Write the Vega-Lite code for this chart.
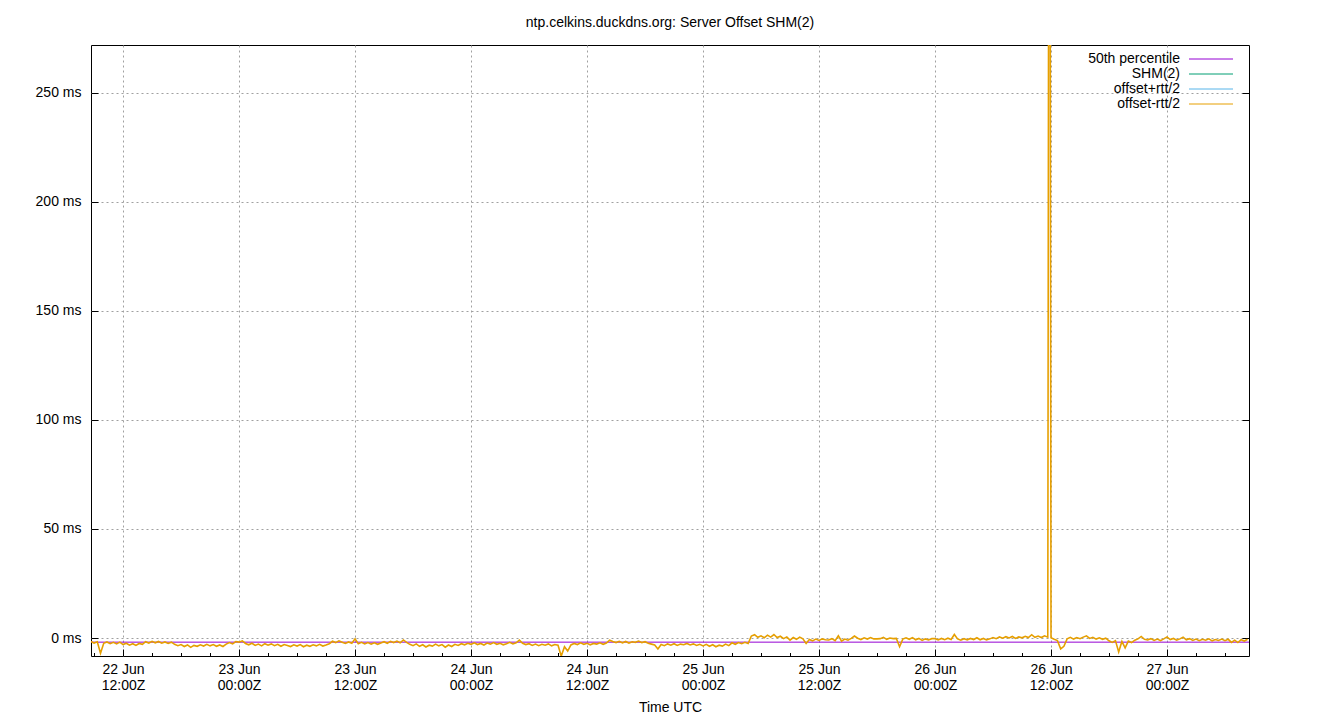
{
  "$schema": "https://vega.github.io/schema/vega-lite/v6.json",
  "autosize": "none",
  "width": 1158,
  "height": 611,
  "padding": {"left": 91, "top": 45, "right": 91, "bottom": 64},
  "background": "white",
  "title": {"text": "ntp.celkins.duckdns.org: Server Offset SHM(2)", "offset": 15},
  "config": {
    "font": "Liberation Sans",
    "view": {"stroke": "black", "strokeWidth": 1},
    "title": {"font": "Liberation Sans", "fontSize": 14, "fontWeight": "normal", "color": "black"},
    "axis": {
      "labelFont": "Liberation Sans", "labelFontSize": 14, "labelColor": "black",
      "titleFont": "Liberation Sans", "titleFontSize": 14, "titleFontWeight": "normal", "titleColor": "black",
      "domain": false, "tickColor": "black", "gridColor": "#a0a0a0", "gridDash": [2, 3], "gridWidth": 1
    },
    "legend": {
      "orient": "none", "legendX": 1113, "legendY": 7, "padding": 0,
      "symbolType": "M-4,0H4", "symbolSize": 121, "symbolStrokeWidth": 1,
      "labelAlign": "right", "labelOffset": -38, "labelFont": "Liberation Sans", "labelFontSize": 14, "labelColor": "black",
      "rowPadding": 1
    }
  },
  "resolve": {"axis": {"y": "independent"}},
  "layer": [
    {
      "data": {"values": [{"series": "50th percentile", "v": -1.9}]},
      "mark": {"type": "rule", "strokeWidth": 1},
      "encoding": {
        "y": {
          "field": "v", "type": "quantitative",
          "scale": {"domain": [-8.25, 271.8], "nice": false, "zero": false},
          "axis": {"title": null, "orient": "left", "values": [0, 50, 100, 150, 200, 250], "labelExpr": "datum.value + ' ms'", "grid": true, "tickSize": -7, "labelPadding": 17}
        },
        "color": {
          "field": "series", "type": "nominal",
          "scale": {"domain": ["50th percentile", "SHM(2)", "offset+rtt/2", "offset-rtt/2"], "range": ["#9400d3", "#009e73", "#56b4e9", "#e69f00"]},
          "legend": {"title": null}
        }
      }
    },
    {
      "data": {"values": [
        {"t":"2023-06-22T08:40Z","v":-1.6},
        {"t":"2023-06-22T09:00Z","v":-2.3},{"t":"2023-06-22T09:20Z","v":-1.7},{"t":"2023-06-22T09:40Z","v":-7.0},
        {"t":"2023-06-22T10:00Z","v":-2.4},{"t":"2023-06-22T10:20Z","v":-1.8},{"t":"2023-06-22T10:40Z","v":-2.6},
        {"t":"2023-06-22T11:00Z","v":-2.0},{"t":"2023-06-22T11:20Z","v":-2.7},{"t":"2023-06-22T11:40Z","v":-1.9},
        {"t":"2023-06-22T12:00Z","v":-3.0},{"t":"2023-06-22T12:20Z","v":-2.4},{"t":"2023-06-22T12:40Z","v":-3.3},
        {"t":"2023-06-22T13:00Z","v":-2.6},{"t":"2023-06-22T13:20Z","v":-3.4},{"t":"2023-06-22T13:40Z","v":-2.5},
        {"t":"2023-06-22T14:00Z","v":-2.9},{"t":"2023-06-22T14:20Z","v":-1.7},{"t":"2023-06-22T14:40Z","v":-2.3},
        {"t":"2023-06-22T15:00Z","v":-1.5},{"t":"2023-06-22T15:20Z","v":-2.2},{"t":"2023-06-22T15:40Z","v":-1.6},
        {"t":"2023-06-22T16:00Z","v":-2.4},{"t":"2023-06-22T16:20Z","v":-1.8},{"t":"2023-06-22T16:40Z","v":-2.5},
        {"t":"2023-06-22T17:00Z","v":-1.9},{"t":"2023-06-22T17:20Z","v":-2.9},{"t":"2023-06-22T17:40Z","v":-3.5},
        {"t":"2023-06-22T18:00Z","v":-3.0},{"t":"2023-06-22T18:20Z","v":-3.9},{"t":"2023-06-22T18:40Z","v":-3.2},
        {"t":"2023-06-22T19:00Z","v":-4.3},{"t":"2023-06-22T19:20Z","v":-3.4},{"t":"2023-06-22T19:40Z","v":-3.8},
        {"t":"2023-06-22T20:00Z","v":-3.1},{"t":"2023-06-22T20:20Z","v":-3.7},{"t":"2023-06-22T20:40Z","v":-2.9},
        {"t":"2023-06-22T21:00Z","v":-3.6},{"t":"2023-06-22T21:20Z","v":-3.0},{"t":"2023-06-22T21:40Z","v":-3.8},
        {"t":"2023-06-22T22:00Z","v":-3.2},{"t":"2023-06-22T22:20Z","v":-3.9},{"t":"2023-06-22T22:40Z","v":-2.8},
        {"t":"2023-06-22T23:00Z","v":-2.1},{"t":"2023-06-22T23:20Z","v":-2.7},{"t":"2023-06-22T23:40Z","v":-1.6},
        {"t":"2023-06-23T00:00Z","v":-1.9},{"t":"2023-06-23T00:20Z","v":-1.3},{"t":"2023-06-23T00:40Z","v":-2.5},
        {"t":"2023-06-23T01:00Z","v":-3.1},{"t":"2023-06-23T01:20Z","v":-2.4},{"t":"2023-06-23T01:40Z","v":-3.4},
        {"t":"2023-06-23T02:00Z","v":-2.8},{"t":"2023-06-23T02:20Z","v":-3.6},{"t":"2023-06-23T02:40Z","v":-2.6},
        {"t":"2023-06-23T03:00Z","v":-3.3},{"t":"2023-06-23T03:20Z","v":-2.7},{"t":"2023-06-23T03:40Z","v":-3.5},
        {"t":"2023-06-23T04:00Z","v":-2.9},{"t":"2023-06-23T04:20Z","v":-3.8},{"t":"2023-06-23T04:40Z","v":-3.0},
        {"t":"2023-06-23T05:00Z","v":-3.4},{"t":"2023-06-23T05:20Z","v":-3.9},{"t":"2023-06-23T05:40Z","v":-3.1},
        {"t":"2023-06-23T06:00Z","v":-3.7},{"t":"2023-06-23T06:20Z","v":-3.0},{"t":"2023-06-23T06:40Z","v":-4.0},
        {"t":"2023-06-23T07:00Z","v":-3.3},{"t":"2023-06-23T07:20Z","v":-3.8},{"t":"2023-06-23T07:40Z","v":-3.1},
        {"t":"2023-06-23T08:00Z","v":-3.6},{"t":"2023-06-23T08:20Z","v":-2.9},{"t":"2023-06-23T08:40Z","v":-3.7},
        {"t":"2023-06-23T09:00Z","v":-3.2},{"t":"2023-06-23T09:20Z","v":-2.6},{"t":"2023-06-23T09:40Z","v":-1.5},
        {"t":"2023-06-23T10:00Z","v":-2.1},{"t":"2023-06-23T10:20Z","v":-1.3},{"t":"2023-06-23T10:40Z","v":-1.9},
        {"t":"2023-06-23T11:00Z","v":-2.5},{"t":"2023-06-23T11:20Z","v":-1.8},{"t":"2023-06-23T11:40Z","v":-2.4},
        {"t":"2023-06-23T12:00Z","v":-0.4},{"t":"2023-06-23T12:20Z","v":-2.6},{"t":"2023-06-23T12:40Z","v":-2.0},
        {"t":"2023-06-23T13:00Z","v":-2.7},{"t":"2023-06-23T13:20Z","v":-2.1},{"t":"2023-06-23T13:40Z","v":-2.8},
        {"t":"2023-06-23T14:00Z","v":-2.2},{"t":"2023-06-23T14:20Z","v":-2.9},{"t":"2023-06-23T14:40Z","v":-2.3},
        {"t":"2023-06-23T15:00Z","v":-1.7},{"t":"2023-06-23T15:20Z","v":-2.4},{"t":"2023-06-23T15:40Z","v":-1.5},
        {"t":"2023-06-23T16:00Z","v":-2.1},{"t":"2023-06-23T16:20Z","v":-1.4},{"t":"2023-06-23T16:40Z","v":-2.2},
        {"t":"2023-06-23T17:00Z","v":-0.9},{"t":"2023-06-23T17:20Z","v":-2.0},{"t":"2023-06-23T17:40Z","v":-2.9},
        {"t":"2023-06-23T18:00Z","v":-3.5},{"t":"2023-06-23T18:20Z","v":-2.7},{"t":"2023-06-23T18:40Z","v":-3.8},
        {"t":"2023-06-23T19:00Z","v":-3.1},{"t":"2023-06-23T19:20Z","v":-4.1},{"t":"2023-06-23T19:40Z","v":-3.3},
        {"t":"2023-06-23T20:00Z","v":-3.7},{"t":"2023-06-23T20:20Z","v":-2.8},{"t":"2023-06-23T20:40Z","v":-3.6},
        {"t":"2023-06-23T21:00Z","v":-3.0},{"t":"2023-06-23T21:20Z","v":-4.2},{"t":"2023-06-23T21:40Z","v":-3.2},
        {"t":"2023-06-23T22:00Z","v":-3.9},{"t":"2023-06-23T22:20Z","v":-2.9},{"t":"2023-06-23T22:40Z","v":-3.4},
        {"t":"2023-06-23T23:00Z","v":-2.6},{"t":"2023-06-23T23:20Z","v":-3.1},{"t":"2023-06-23T23:40Z","v":-2.4},
        {"t":"2023-06-24T00:00Z","v":-2.9},{"t":"2023-06-24T00:20Z","v":-2.2},{"t":"2023-06-24T00:40Z","v":-3.0},
        {"t":"2023-06-24T01:00Z","v":-2.5},{"t":"2023-06-24T01:20Z","v":-3.2},{"t":"2023-06-24T01:40Z","v":-2.3},
        {"t":"2023-06-24T02:00Z","v":-2.8},{"t":"2023-06-24T02:20Z","v":-2.1},{"t":"2023-06-24T02:40Z","v":-2.9},
        {"t":"2023-06-24T03:00Z","v":-2.4},{"t":"2023-06-24T03:20Z","v":-3.1},{"t":"2023-06-24T03:40Z","v":-2.6},
        {"t":"2023-06-24T04:00Z","v":-2.0},{"t":"2023-06-24T04:20Z","v":-2.7},{"t":"2023-06-24T04:40Z","v":-2.2},
        {"t":"2023-06-24T05:00Z","v":-1.0},{"t":"2023-06-24T05:20Z","v":-2.4},{"t":"2023-06-24T05:40Z","v":-3.0},
        {"t":"2023-06-24T06:00Z","v":-2.6},{"t":"2023-06-24T06:20Z","v":-3.4},{"t":"2023-06-24T06:40Z","v":-2.8},
        {"t":"2023-06-24T07:00Z","v":-3.5},{"t":"2023-06-24T07:20Z","v":-2.9},{"t":"2023-06-24T07:40Z","v":-3.3},
        {"t":"2023-06-24T08:00Z","v":-2.7},{"t":"2023-06-24T08:20Z","v":-3.6},{"t":"2023-06-24T08:40Z","v":-3.0},
        {"t":"2023-06-24T09:00Z","v":-3.3},{"t":"2023-06-24T09:20Z","v":-8.3},{"t":"2023-06-24T09:40Z","v":-4.0},
        {"t":"2023-06-24T10:00Z","v":-6.0},{"t":"2023-06-24T10:20Z","v":-3.2},{"t":"2023-06-24T10:40Z","v":-2.5},
        {"t":"2023-06-24T11:00Z","v":-3.0},{"t":"2023-06-24T11:20Z","v":-2.2},{"t":"2023-06-24T11:40Z","v":-2.9},
        {"t":"2023-06-24T12:00Z","v":-2.4},{"t":"2023-06-24T12:20Z","v":-3.1},{"t":"2023-06-24T12:40Z","v":-2.5},
        {"t":"2023-06-24T13:00Z","v":-2.8},{"t":"2023-06-24T13:20Z","v":-2.2},{"t":"2023-06-24T13:40Z","v":-2.9},
        {"t":"2023-06-24T14:00Z","v":-2.3},{"t":"2023-06-24T14:20Z","v":-1.0},{"t":"2023-06-24T14:40Z","v":-1.6},
        {"t":"2023-06-24T15:00Z","v":-2.1},{"t":"2023-06-24T15:20Z","v":-1.5},{"t":"2023-06-24T15:40Z","v":-2.2},
        {"t":"2023-06-24T16:00Z","v":-1.6},{"t":"2023-06-24T16:20Z","v":-2.3},{"t":"2023-06-24T16:40Z","v":-1.7},
        {"t":"2023-06-24T17:00Z","v":-2.0},{"t":"2023-06-24T17:20Z","v":-1.4},{"t":"2023-06-24T17:40Z","v":-2.1},
        {"t":"2023-06-24T18:00Z","v":-1.7},{"t":"2023-06-24T18:20Z","v":-2.4},{"t":"2023-06-24T18:40Z","v":-2.8},
        {"t":"2023-06-24T19:00Z","v":-3.2},{"t":"2023-06-24T19:20Z","v":-5.0},{"t":"2023-06-24T19:40Z","v":-3.0},
        {"t":"2023-06-24T20:00Z","v":-3.5},{"t":"2023-06-24T20:20Z","v":-2.7},{"t":"2023-06-24T20:40Z","v":-3.3},
        {"t":"2023-06-24T21:00Z","v":-2.6},{"t":"2023-06-24T21:20Z","v":-3.4},{"t":"2023-06-24T21:40Z","v":-2.8},
        {"t":"2023-06-24T22:00Z","v":-3.1},{"t":"2023-06-24T22:20Z","v":-2.5},{"t":"2023-06-24T22:40Z","v":-3.2},
        {"t":"2023-06-24T23:00Z","v":-2.7},{"t":"2023-06-24T23:20Z","v":-3.4},{"t":"2023-06-24T23:40Z","v":-2.9},
        {"t":"2023-06-25T00:00Z","v":-3.6},{"t":"2023-06-25T00:20Z","v":-2.9},{"t":"2023-06-25T00:40Z","v":-3.8},
        {"t":"2023-06-25T01:00Z","v":-3.1},{"t":"2023-06-25T01:20Z","v":-4.0},{"t":"2023-06-25T01:40Z","v":-3.3},
        {"t":"2023-06-25T02:00Z","v":-3.7},{"t":"2023-06-25T02:20Z","v":-2.8},{"t":"2023-06-25T02:40Z","v":-3.5},
        {"t":"2023-06-25T03:00Z","v":-2.2},{"t":"2023-06-25T03:20Z","v":-2.9},{"t":"2023-06-25T03:40Z","v":-2.1},
        {"t":"2023-06-25T04:00Z","v":-2.6},{"t":"2023-06-25T04:20Z","v":-2.0},{"t":"2023-06-25T04:40Z","v":-2.5},
        {"t":"2023-06-25T05:00Z","v":0.9},{"t":"2023-06-25T05:20Z","v":1.5},{"t":"2023-06-25T05:40Z","v":0.3},
        {"t":"2023-06-25T06:00Z","v":1.0},{"t":"2023-06-25T06:20Z","v":0.1},{"t":"2023-06-25T06:40Z","v":1.3},
        {"t":"2023-06-25T07:00Z","v":0.4},{"t":"2023-06-25T07:20Z","v":1.6},{"t":"2023-06-25T07:40Z","v":0.2},
        {"t":"2023-06-25T08:00Z","v":0.8},{"t":"2023-06-25T08:20Z","v":-0.3},{"t":"2023-06-25T08:40Z","v":0.5},
        {"t":"2023-06-25T09:00Z","v":-1.0},{"t":"2023-06-25T09:20Z","v":0.2},{"t":"2023-06-25T09:40Z","v":-0.6},
        {"t":"2023-06-25T10:00Z","v":0.4},{"t":"2023-06-25T10:20Z","v":-0.4},{"t":"2023-06-25T10:40Z","v":-2.5},
        {"t":"2023-06-25T11:00Z","v":-0.7},{"t":"2023-06-25T11:20Z","v":-1.3},{"t":"2023-06-25T11:40Z","v":-0.5},
        {"t":"2023-06-25T12:00Z","v":-1.1},{"t":"2023-06-25T12:20Z","v":-0.4},{"t":"2023-06-25T12:40Z","v":-0.8},
        {"t":"2023-06-25T13:00Z","v":-0.9},{"t":"2023-06-25T13:20Z","v":-0.3},{"t":"2023-06-25T13:40Z","v":-1.2},
        {"t":"2023-06-25T14:00Z","v":1.0},{"t":"2023-06-25T14:20Z","v":-1.4},{"t":"2023-06-25T14:40Z","v":-0.5},
        {"t":"2023-06-25T15:00Z","v":-1.0},{"t":"2023-06-25T15:20Z","v":-0.2},{"t":"2023-06-25T15:40Z","v":0.9},
        {"t":"2023-06-25T16:00Z","v":-0.1},{"t":"2023-06-25T16:20Z","v":-0.7},{"t":"2023-06-25T16:40Z","v":0.1},
        {"t":"2023-06-25T17:00Z","v":-0.5},{"t":"2023-06-25T17:20Z","v":0.2},{"t":"2023-06-25T17:40Z","v":-0.4},
        {"t":"2023-06-25T18:00Z","v":-0.4},{"t":"2023-06-25T18:20Z","v":-0.3},{"t":"2023-06-25T18:40Z","v":0.3},
        {"t":"2023-06-25T19:00Z","v":-0.6},{"t":"2023-06-25T19:20Z","v":0.0},{"t":"2023-06-25T19:40Z","v":-0.3},
        {"t":"2023-06-25T20:00Z","v":-0.2},{"t":"2023-06-25T20:20Z","v":-4.0},{"t":"2023-06-25T20:40Z","v":-0.5},
        {"t":"2023-06-25T21:00Z","v":0.1},{"t":"2023-06-25T21:20Z","v":-0.6},{"t":"2023-06-25T21:40Z","v":0.2},
        {"t":"2023-06-25T22:00Z","v":-0.8},{"t":"2023-06-25T22:20Z","v":-0.2},{"t":"2023-06-25T22:40Z","v":-1.1},
        {"t":"2023-06-25T23:00Z","v":-0.4},{"t":"2023-06-25T23:20Z","v":-0.9},{"t":"2023-06-25T23:40Z","v":-0.3},
        {"t":"2023-06-26T00:00Z","v":-0.3},{"t":"2023-06-26T00:20Z","v":-0.9},{"t":"2023-06-26T00:40Z","v":-0.2},
        {"t":"2023-06-26T01:00Z","v":-0.8},{"t":"2023-06-26T01:20Z","v":-0.1},{"t":"2023-06-26T01:40Z","v":-0.7},
        {"t":"2023-06-26T02:00Z","v":1.6},{"t":"2023-06-26T02:20Z","v":-0.4},{"t":"2023-06-26T02:40Z","v":-1.0},
        {"t":"2023-06-26T03:00Z","v":-0.3},{"t":"2023-06-26T03:20Z","v":-0.9},{"t":"2023-06-26T03:40Z","v":-0.2},
        {"t":"2023-06-26T04:00Z","v":-0.7},{"t":"2023-06-26T04:20Z","v":0.1},{"t":"2023-06-26T04:40Z","v":-0.8},
        {"t":"2023-06-26T05:00Z","v":-0.2},{"t":"2023-06-26T05:20Z","v":-0.9},{"t":"2023-06-26T05:40Z","v":-0.4},
        {"t":"2023-06-26T06:00Z","v":0.2},{"t":"2023-06-26T06:20Z","v":-0.3},{"t":"2023-06-26T06:40Z","v":0.5},
        {"t":"2023-06-26T07:00Z","v":-0.1},{"t":"2023-06-26T07:20Z","v":0.6},{"t":"2023-06-26T07:40Z","v":0.0},
        {"t":"2023-06-26T08:00Z","v":0.7},{"t":"2023-06-26T08:20Z","v":-0.2},{"t":"2023-06-26T08:40Z","v":0.5},
        {"t":"2023-06-26T09:00Z","v":0.1},{"t":"2023-06-26T09:20Z","v":0.8},{"t":"2023-06-26T09:40Z","v":0.2},
        {"t":"2023-06-26T10:00Z","v":1.5},{"t":"2023-06-26T10:20Z","v":0.3},{"t":"2023-06-26T10:40Z","v":0.9},
        {"t":"2023-06-26T11:00Z","v":0.2},{"t":"2023-06-26T11:20Z","v":1.0},{"t":"2023-06-26T11:40Z","v":0.4},
        {"t":"2023-06-26T11:50Z","v":600},
        {"t":"2023-06-26T12:00Z","v":0.1},{"t":"2023-06-26T12:20Z","v":-0.6},{"t":"2023-06-26T12:40Z","v":-1.2},
        {"t":"2023-06-26T13:00Z","v":-5.0},{"t":"2023-06-26T13:20Z","v":-3.8},{"t":"2023-06-26T13:40Z","v":-0.4},
        {"t":"2023-06-26T14:00Z","v":0.3},{"t":"2023-06-26T14:20Z","v":-0.5},{"t":"2023-06-26T14:40Z","v":0.2},
        {"t":"2023-06-26T15:00Z","v":-0.3},{"t":"2023-06-26T15:20Z","v":0.4},{"t":"2023-06-26T15:40Z","v":1.0},
        {"t":"2023-06-26T16:00Z","v":-0.2},{"t":"2023-06-26T16:20Z","v":0.3},{"t":"2023-06-26T16:40Z","v":-0.5},
        {"t":"2023-06-26T17:00Z","v":0.1},{"t":"2023-06-26T17:20Z","v":-0.6},{"t":"2023-06-26T17:40Z","v":-0.1},
        {"t":"2023-06-26T18:00Z","v":-1.3},{"t":"2023-06-26T18:20Z","v":-2.0},{"t":"2023-06-26T18:40Z","v":-1.2},
        {"t":"2023-06-26T19:00Z","v":-6.4},{"t":"2023-06-26T19:20Z","v":-1.6},{"t":"2023-06-26T19:40Z","v":-4.5},
        {"t":"2023-06-26T20:00Z","v":-1.4},{"t":"2023-06-26T20:20Z","v":-2.1},{"t":"2023-06-26T20:40Z","v":-1.0},
        {"t":"2023-06-26T21:00Z","v":-0.4},{"t":"2023-06-26T21:20Z","v":0.7},{"t":"2023-06-26T21:40Z","v":-0.6},
        {"t":"2023-06-26T22:00Z","v":-0.9},{"t":"2023-06-26T22:20Z","v":-0.3},{"t":"2023-06-26T22:40Z","v":-1.1},
        {"t":"2023-06-26T23:00Z","v":-0.5},{"t":"2023-06-26T23:20Z","v":-1.2},{"t":"2023-06-26T23:40Z","v":-0.4},
        {"t":"2023-06-27T00:00Z","v":0.5},{"t":"2023-06-27T00:20Z","v":-0.7},{"t":"2023-06-27T00:40Z","v":-0.2},
        {"t":"2023-06-27T01:00Z","v":-1.0},{"t":"2023-06-27T01:20Z","v":-0.4},{"t":"2023-06-27T01:40Z","v":0.4},
        {"t":"2023-06-27T02:00Z","v":-0.8},{"t":"2023-06-27T02:20Z","v":-0.3},{"t":"2023-06-27T02:40Z","v":-1.1},
        {"t":"2023-06-27T03:00Z","v":-0.5},{"t":"2023-06-27T03:20Z","v":-1.2},{"t":"2023-06-27T03:40Z","v":-0.6},
        {"t":"2023-06-27T04:00Z","v":-1.0},{"t":"2023-06-27T04:20Z","v":-0.4},{"t":"2023-06-27T04:40Z","v":-1.3},
        {"t":"2023-06-27T05:00Z","v":-0.7},{"t":"2023-06-27T05:20Z","v":-1.1},{"t":"2023-06-27T05:40Z","v":-0.5},
        {"t":"2023-06-27T06:00Z","v":-1.2},{"t":"2023-06-27T06:20Z","v":-0.6},{"t":"2023-06-27T06:40Z","v":-2.0},
        {"t":"2023-06-27T07:00Z","v":-1.0},{"t":"2023-06-27T07:20Z","v":-2.1},{"t":"2023-06-27T07:40Z","v":-0.8},
        {"t":"2023-06-27T08:00Z","v":-1.4},{"t":"2023-06-27T08:20Z","v":-0.6}
      ]},
      "mark": {"type": "line", "strokeWidth": 1.6, "clip": true},
      "encoding": {
        "x": {
          "field": "t", "type": "temporal",
          "scale": {"type": "utc", "domain": [1687423260000, 1687854540000], "nice": false},
          "axis": {
            "title": "Time UTC", "titlePadding": 8,
            "values": [1687424400000, 1687435200000, 1687446000000, 1687456800000, 1687467600000, 1687478400000, 1687489200000, 1687500000000,
                       1687510800000, 1687521600000, 1687532400000, 1687543200000, 1687554000000, 1687564800000, 1687575600000, 1687586400000,
                       1687597200000, 1687608000000, 1687618800000, 1687629600000, 1687640400000, 1687651200000, 1687662000000, 1687672800000,
                       1687683600000, 1687694400000, 1687705200000, 1687716000000, 1687726800000, 1687737600000, 1687748400000, 1687759200000,
                       1687770000000, 1687780800000, 1687791600000, 1687802400000, 1687813200000, 1687824000000, 1687834800000, 1687845600000],
            "labelExpr": "utchours(datum.value) % 12 == 0 ? [utcFormat(datum.value, '%d %b'), utcFormat(datum.value, '%H:%MZ')] : ''",
            "labelLineHeight": 16, "labelPadding": 13, "labelFlush": false, "labelOverlap": false,
            "grid": true,
            "gridOpacity": {"condition": {"test": "utchours(datum.value) % 12 == 0", "value": 1}, "value": 0},
            "tickSize": {"condition": {"test": "utchours(datum.value) % 12 == 0", "value": -7}, "value": -3.5}
          }
        },
        "y": {
          "field": "v", "type": "quantitative",
          "axis": {"orient": "right", "title": null, "labels": false, "grid": false, "values": [0, 50, 100, 150, 200, 250], "tickSize": -7}
        },
        "color": {"datum": "offset-rtt/2", "type": "nominal"}
      }
    }
  ]
}
